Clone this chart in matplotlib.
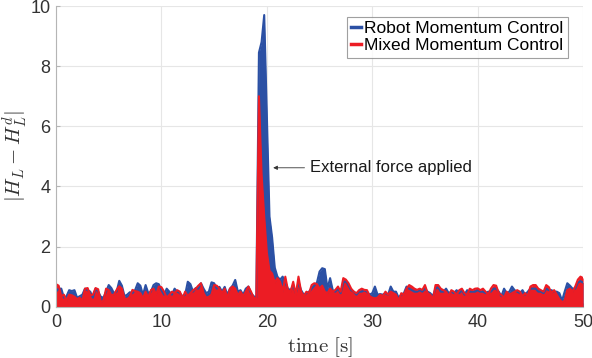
import numpy as np
import matplotlib
matplotlib.use("Agg")
import matplotlib.pyplot as plt

# sampled every 0.25 s, from 0 to 50 s
dt = 0.25
robot = [
    0.5, 0.6, 0.6, 0.3, 0.35, 0.55, 0.52, 0.55, 0.3, 0.35,
    0.4, 0.6, 0.55, 0.5, 0.3, 0.6, 0.5, 0.33, 0.3, 0.5,
    0.72, 0.62, 0.45, 0.5, 0.86, 0.7, 0.35, 0.4, 0.48, 0.45,
    0.55, 0.78, 0.7, 0.39, 0.72, 0.45, 0.5, 0.72, 0.78, 0.75,
    0.55, 0.4, 0.6, 0.5, 0.4, 0.6, 0.5, 0.45, 0.35, 0.4,
    0.83, 0.75, 0.5, 0.62, 0.6, 0.78, 0.6, 0.45, 0.5, 0.81,
    0.78, 0.6, 0.66, 0.5, 0.66, 0.4, 0.6, 0.7, 0.89, 0.5,
    0.55, 0.4, 0.6, 0.67, 0.45, 0.35, 0.3, 8.45, 8.8, 9.7,
    6.3, 3.0, 2.3, 1.3, 1.0, 0.9, 1.0, 0.8, 0.6, 0.55,
    0.7, 0.45, 0.8, 0.55, 0.4, 0.45, 0.5, 0.6, 0.7, 0.8,
    1.17, 1.28, 1.25, 0.6, 0.95, 0.55, 0.5, 0.6, 0.45, 0.8,
    0.85, 0.7, 0.55, 0.5, 0.4, 0.5, 0.5, 0.55, 0.5, 0.4,
    0.45, 0.67, 0.4, 0.42, 0.4, 0.45, 0.4, 0.67, 0.5, 0.5,
    0.3, 0.4, 0.45, 0.67, 0.6, 0.55, 0.5, 0.5, 0.55, 0.5,
    0.6, 0.5, 0.45, 0.35, 0.6, 0.65, 0.5, 0.5, 0.6, 0.45,
    0.5, 0.45, 0.55, 0.45, 0.55, 0.4, 0.55, 0.5, 0.5, 0.5,
    0.55, 0.5, 0.5, 0.45, 0.5, 0.5, 0.6, 0.6, 0.5, 0.35,
    0.6, 0.45, 0.5, 0.67, 0.55, 0.5, 0.45, 0.55, 0.4, 0.5,
    0.6, 0.6, 0.6, 0.5, 0.5, 0.45, 0.6, 0.55, 0.55, 0.5,
    0.5, 0.45, 0.2, 0.5, 0.78, 0.7, 0.6, 0.6, 0.8, 0.85,
    0.8,
]
mixed = [
    0.75, 0.7, 0.35, 0.4, 0.2, 0.4, 0.38, 0.33, 0.25, 0.3,
    0.2, 0.6, 0.62, 0.38, 0.4, 0.62, 0.58, 0.15, 0.2, 0.6,
    0.55, 0.38, 0.4, 0.56, 0.68, 0.6, 0.28, 0.25, 0.33, 0.56,
    0.52, 0.5, 0.45, 0.28, 0.5, 0.3, 0.55, 0.6, 0.4, 0.67,
    0.65, 0.5, 0.3, 0.39, 0.5, 0.45, 0.55, 0.5, 0.28, 0.5,
    0.35, 0.45, 0.55, 0.6, 0.7, 0.78, 0.45, 0.3, 0.33, 0.4,
    0.72, 0.7, 0.6, 0.45, 0.6, 0.28, 0.6, 0.67, 0.6, 0.38,
    0.5, 0.35, 0.5, 0.67, 0.5, 0.3, 0.25, 7.0, 4.4, 3.0,
    1.8, 1.2, 1.1, 0.8, 0.95, 0.83, 0.5, 1.0, 0.55, 0.5,
    0.83, 0.4, 1.0, 0.5, 0.35, 0.5, 0.45, 0.72, 0.78, 0.75,
    0.6, 0.7, 0.5, 0.45, 0.6, 0.5, 0.56, 0.67, 0.5, 0.95,
    0.9, 0.78, 0.6, 0.5, 0.45, 0.55, 0.6, 0.56, 0.55, 0.35,
    0.3, 0.28, 0.3, 0.4, 0.35, 0.5, 0.4, 0.5, 0.45, 0.4,
    0.2, 0.45, 0.4, 0.6, 0.72, 0.67, 0.6, 0.56, 0.6, 0.56,
    0.72, 0.45, 0.4, 0.25, 0.72, 0.72, 0.6, 0.55, 0.5, 0.35,
    0.55, 0.5, 0.4, 0.55, 0.6, 0.45, 0.4, 0.6, 0.55, 0.6,
    0.61, 0.55, 0.6, 0.5, 0.4, 0.6, 0.72, 0.7, 0.45, 0.39,
    0.3, 0.5, 0.4, 0.45, 0.5, 0.55, 0.5, 0.35, 0.45, 0.35,
    0.67, 0.72, 0.72, 0.6, 0.55, 0.5, 0.72, 0.65, 0.45, 0.55,
    0.4, 0.25, 0.15, 0.2, 0.55, 0.6, 0.5, 0.67, 0.9, 1.0,
    0.95,
]
xticks = [0, 10, 20, 30, 40, 50]
yticks = [0, 2, 4, 6, 8, 10]
labels = ["Robot Momentum Control", "Mixed Momentum Control"]

blue = "#2b50a4"
red = "#ec1c24"

plt.rcParams["mathtext.fontset"] = "cm"
plt.rcParams["font.family"] = ["Liberation Sans", "DejaVu Sans"]

t_r = np.arange(len(robot)) * dt
t_m = np.arange(len(mixed)) * dt

fig = plt.figure(figsize=(5.92, 3.58), dpi=100)
ax = fig.add_axes([0.0946, 0.1433, 0.8904, 0.8399])

ax.fill_between(t_r, 0, robot, color=blue, linewidth=0)
ax.plot(t_r, robot, color=blue, lw=1.5, label=labels[0])
ax.fill_between(t_m, 0, mixed, color=red, linewidth=0)
ax.plot(t_m, mixed, color=red, lw=1.5, label=labels[1])

ax.set_xlim(0, 50)
ax.set_ylim(0, 10)
ax.set_xticks(xticks)
ax.set_yticks(yticks)
ax.grid(True, color="#e6e6e6", lw=0.8)
ax.set_axisbelow(True)
for s in ["top", "right"]:
    ax.spines[s].set_visible(False)
for s in ["left", "bottom"]:
    ax.spines[s].set_color("#b5b5b5")
    ax.spines[s].set_linewidth(0.8)
ax.tick_params(direction="in", length=3, color="#b5b5b5", labelsize=13,
               labelcolor="#333333")
ax.tick_params(axis="x", pad=5)
ax.tick_params(axis="y", pad=4)

ax.set_xlabel(r"$\mathrm{time\ [s]}$", fontsize=15, color="#333333", labelpad=3)
ax.set_ylabel(r"$|H_L - H_L^d|$", fontsize=15, color="#333333", labelpad=0)
ax.yaxis.set_label_coords(-0.05, 0.5)

ax.annotate("External force applied", xy=(20.6, 4.62), xytext=(24.1, 4.62),
            ha="left", va="center", fontsize=12, color="#1a1a1a",
            arrowprops=dict(arrowstyle="-|>", color="#333333", lw=0.6,
                            mutation_scale=6, relpos=(0, 0.5),
                            shrinkA=2, shrinkB=0))

leg = ax.legend(loc="upper right", bbox_to_anchor=(0.977, 0.975), fontsize=12.5,
                handlelength=0.6, handletextpad=0.15, borderpad=0.25,
                labelspacing=0.1, frameon=True, fancybox=False,
                borderaxespad=0.2)
leg.get_frame().set_edgecolor("#888888")
leg.get_frame().set_linewidth(0.8)
for h in leg.get_lines():
    h.set_linewidth(2.5)

fig.savefig("out.png", dpi=100)
